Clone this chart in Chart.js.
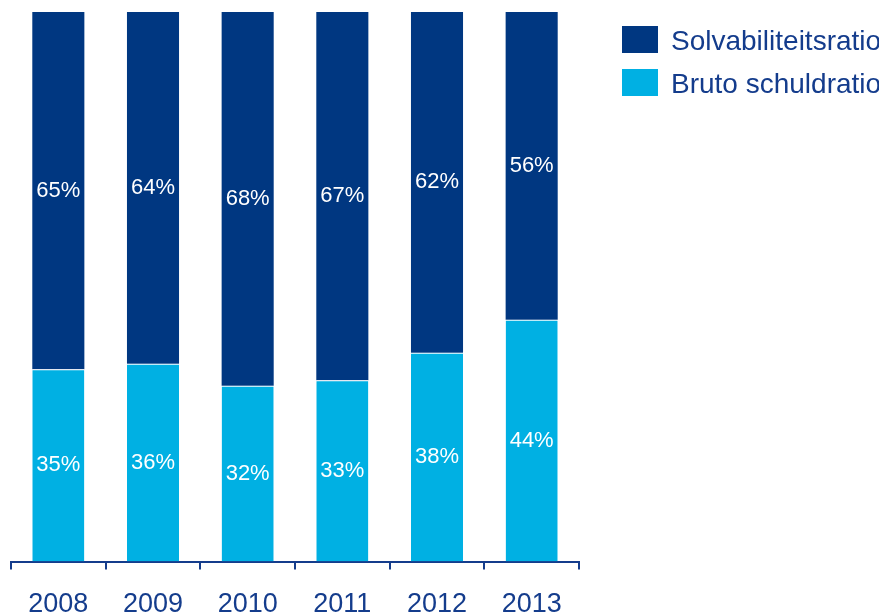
<!DOCTYPE html>
<html>
<head>
<meta charset="utf-8">
<script src="https://cdn.jsdelivr.net/npm/chart.js@4"></script>
<style>
    html, body { margin: 0; padding: 0; background: #ffffff; overflow: hidden; }
    #wrap { width: 879px; height: 616px; overflow: hidden; }
    #box { width: 879px; height: 640px; position: relative; }
</style>
</head>
<body>
<div id="wrap"><div id="box"><canvas id="ratioChart"></canvas></div></div>
<script>
const years = ['2008', '2009', '2010', '2011', '2012', '2013'];
const brutoSchuld = [35, 36, 32, 33, 38, 44];
const solvabiliteit = [65, 64, 68, 67, 62, 56];

const darkBlue = '#003781';
const lightBlue = '#00b0e3';
const textBlue = '#143c8c';
const fontFamily = '"Liberation Sans", Arial, sans-serif';

// percentages in the middle of every segment
const valueLabels = {
    id: 'valueLabels',
    afterDatasetsDraw(chart) {
        const ctx = chart.ctx;
        ctx.save();
        ctx.fillStyle = '#ffffff';
        ctx.font = '22px ' + fontFamily;
        ctx.textAlign = 'center';
        ctx.textBaseline = 'middle';
        chart.data.datasets.forEach(function(ds, i) {
            chart.getDatasetMeta(i).data.forEach(function(bar, j) {
                const top = Math.max(bar.y, chart.chartArea.top);
                ctx.fillText(ds.data[j] + '%', bar.x, (top + bar.base) / 2);
            });
        });
        ctx.restore();
    }
};

// legend on the right, top series first
const sideLegend = {
    id: 'sideLegend',
    afterDraw(chart) {
        const ctx = chart.ctx;
        const items = chart.data.datasets.slice().reverse();
        ctx.save();
        ctx.font = '28px ' + fontFamily;
        ctx.textBaseline = 'middle';
        items.forEach(function(ds, i) {
            const y = 26 + i * 43;
            ctx.fillStyle = ds.backgroundColor;
            ctx.fillRect(622, y, 36, 27);
            ctx.fillStyle = textBlue;
            ctx.fillText(ds.label, 671, y + 16);
        });
        ctx.restore();
    }
};

new Chart(document.getElementById('ratioChart'), {
    type: 'bar',
    data: {
        labels: years,
        datasets: [{
            label: 'Bruto schuldratio',
            data: brutoSchuld,
            backgroundColor: lightBlue,
            borderColor: '#ffffff',
            borderWidth: { top: 1, left: 0, right: 0, bottom: 0 },
            borderSkipped: false
        }, {
            label: 'Solvabiliteitsratio',
            data: solvabiliteit,
            backgroundColor: darkBlue,
            borderWidth: 0
        }]
    },
    options: {
        responsive: true,
        maintainAspectRatio: false,
        animation: false,
        layout: {
            padding: { top: 12, left: 11, right: 300, bottom: 0 }
        },
        datasets: {
            bar: {
                categoryPercentage: 1,
                barPercentage: 0.55
            }
        },
        plugins: {
            legend: { display: false },
            tooltip: { enabled: false }
        },
        scales: {
            x: {
                stacked: true,
                border: { color: textBlue, width: 2 },
                grid: {
                    drawOnChartArea: false,
                    drawTicks: true,
                    tickLength: 8,
                    color: textBlue,
                    lineWidth: 2
                },
                ticks: {
                    color: textBlue,
                    padding: 19,
                    font: { family: fontFamily, size: 27 }
                }
            },
            y: {
                stacked: true,
                display: false,
                min: 0,
                max: 100
            }
        }
    },
    plugins: [valueLabels, sideLegend]
});
</script>
</body>
</html>
